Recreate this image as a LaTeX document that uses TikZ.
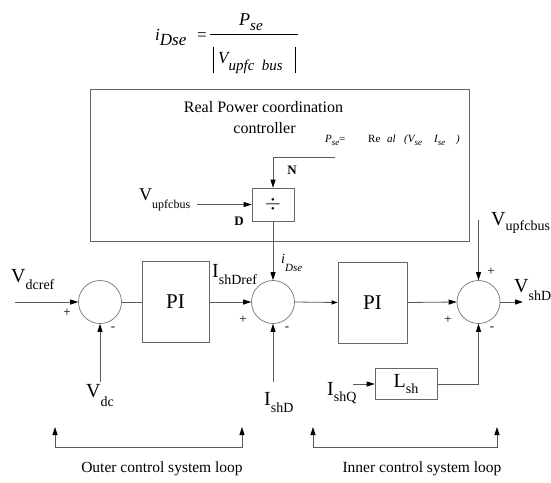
\documentclass[tikz,border=0pt]{standalone}
\usepackage{fontspec}
\setmainfont{Liberation Serif}
\usetikzlibrary{arrows.meta}
\newcommand\fs[1]{\fontsize{#1}{#1}\selectfont}
\newcommand\subt[3]{\raisebox{-#1pt}{\fs{#2}#3}}
\begin{document}
\begin{tikzpicture}[x=1pt,y=-1pt,
  line/.style={draw=black!65, line width=0.8pt},
  arr/.style={line, -{Triangle[length=8pt,width=5pt,color=black]}},
  sarr/.style={line, -{Triangle[length=6pt,width=4pt,color=black]}},
  barr/.style={line, {Triangle[length=8pt,width=5pt,color=black]}-{Triangle[length=8pt,width=5pt,color=black]}},
  sumnode/.style={circle, draw=black!55, line width=0.7pt, minimum size=43pt, inner sep=0pt},
  blk/.style={draw=black!60, line width=0.7pt, inner sep=0pt},
  lbl/.style={inner sep=0pt, anchor=base west, font=\fs{20}},
  sgn/.style={inner sep=0pt, font=\fs{13}},
  small/.style={inner sep=0pt, anchor=base west, font=\fs{11}\itshape}]
\useasboundingbox (0,0) rectangle (551,482);

% top formula
\node[inner sep=0pt, anchor=base west, font=\fs{17}\itshape] (fi) at (155,40) {i\subt{5}{17}{Dse}};
\node[inner sep=0pt, font=\fs{17}] (feq) at (202,37) {=};
\coordinate (fb1) at (210,34); \coordinate (fb2) at (298,34);
\draw[black, line width=0.8pt] (fb1) -- (fb2);
\node[inner sep=0pt, anchor=base west, font=\fs{18}\itshape] (fp) at (239,25) {P\subt{5}{15}{se}};
\coordinate (fl1) at (213,47); \coordinate (fl2) at (213,73);
\coordinate (fr1) at (295,47); \coordinate (fr2) at (295,73);
\draw[black, line width=0.8pt] (fl1) -- (fl2) (fr1) -- (fr2);
\node[inner sep=0pt, anchor=base west, font=\fs{17}\itshape] (fv) at (218,63) {V\subt{7}{15}{upfc\ \ bus}};

% controller box
\node[blk, minimum width=379pt, minimum height=152pt] (ctrl) at (279.5,165) {};
\node[inner sep=0pt, anchor=base, font=\fs{16}] (title1) at (263.5,112) {Real Power coordination};
\node[inner sep=0pt, anchor=base, font=\fs{16}] (title2) at (264.5,133) {controller};
\node[small] (pse1) at (325,142) {P\subt{3}{9}{se}};
\node[small, font=\fs{11}] (pse2) at (339,142) {=};
\node[small, font=\fs{11}] (pse3) at (368,142) {Re};
\node[small] (pse4) at (387,142) {al};
\node[small] (pse5) at (404,142) {(V\subt{3}{9}{se}};
\node[small] (pse6) at (434,142) {I\subt{3}{9}{se}};
\node[small] (pse7) at (456,142) {)};
\node[blk, minimum width=42pt, minimum height=33pt, font=\fs{22}] (div) at (273,204.5) {$\div$};
\coordinate (nstart) at (335,157);
\draw[arr] (nstart) -| (div.north);
\node[inner sep=0pt, font=\fs{13}\bfseries] (nl) at (292,170) {N};
\coordinate (vupl) at (197,204.5);
\draw[arr] (vupl) -- (div.west);
\node[inner sep=0pt, font=\fs{13}\bfseries] (dl) at (239,221) {D};
\node[lbl, font=\fs{18}] (vupfl) at (139,200) {V\subt{8}{12}{upfcbus}};

% main loop
\node[sumnode] (s1) at (100,302) {};
\node[sumnode] (s2) at (273,302) {};
\node[sumnode] (s3) at (478.5,302) {};
\node[blk, minimum width=67pt, minimum height=81pt, font=\fs{21}] (pi1) at (175.5,302) {PI};
\node[blk, minimum width=69pt, minimum height=81pt, font=\fs{21}] (pi2) at (372.5,302.5) {PI};
\node[blk, minimum width=62pt, minimum height=31pt, font=\fs{20}] (lsh) at (406,384) {L\subt{6}{14}{sh}};

\coordinate (vin) at (15,302);
\draw[arr] (vin) -- (s1.west);
\coordinate (vdc) at (100,382);
\draw[arr] (vdc) -- (s1.south);
\draw[line] (s1.east) -- (pi1.west);
\draw[arr] (pi1.east) -- (s2.west);
\coordinate (ishd) at (273,382);
\draw[arr] (ishd) -- (s2.south);
\draw[arr] (div.south) -- (s2.north);
\draw[sarr] (s2.east) -- (pi2.west);
\draw[arr] (pi2.east) -- (s3.west);
\coordinate (vupr) at (478.5,220);
\draw[arr] (vupr) -- (s3.north);
\coordinate (vout) at (523,302);
\draw[arr] (s3.east) -- (vout);
\coordinate (ishq) at (353,384);
\draw[arr] (ishq) -- (lsh.west);
\draw[arr] (lsh.east) -| (s3.south);

% labels
\node[lbl] (vdcref) at (11,282) {V\subt{7}{14}{dcref}};
\node[sgn] (p1) at (67,313) {+};
\node[sgn] (m1) at (113,329) {-};
\node[lbl] (vdcl) at (86,397) {V\subt{9}{14}{dc}};
\node[lbl] (ishdref) at (212,277) {I\subt{7}{14}{shDref}};
\node[sgn] (p2) at (243,320) {+};
\node[sgn] (m2) at (287,329) {-};
\node[inner sep=0pt, anchor=base west, font=\fs{14}\itshape] (idse) at (281,263) {i\subt{8}{11}{Dse}};
\node[lbl] (ishdl) at (264,405) {I\subt{7}{14}{shD}};
\node[sgn] (p3) at (448,320) {+};
\node[sgn] (p4) at (491,272) {+};
\node[sgn] (m3) at (492,329) {-};
\node[lbl] (vupfr) at (491,225) {V\subt{5}{14}{upfcbus}};
\node[lbl] (vshd) at (514,292) {V\subt{8}{14}{shD}};
\node[lbl] (ishql) at (327,395) {I\subt{6}{14}{shQ}};

% loop brackets
\coordinate (ob1) at (55,427); \coordinate (ob2) at (55,447);
\coordinate (ob3) at (242,447); \coordinate (ob4) at (242,427);
\draw[barr] (ob1) -- (ob2) -- (ob3) -- (ob4);
\coordinate (ib1) at (313,427); \coordinate (ib2) at (313,447);
\coordinate (ib3) at (497,447); \coordinate (ib4) at (497,427);
\draw[barr] (ib1) -- (ib2) -- (ib3) -- (ib4);
\node[inner sep=0pt, anchor=base, font=\fs{15.5}] (outer) at (162,472) {Outer control system loop};
\node[inner sep=0pt, anchor=base, font=\fs{15.5}] (inner) at (422,472) {Inner control system loop};
\end{tikzpicture}
\end{document}
